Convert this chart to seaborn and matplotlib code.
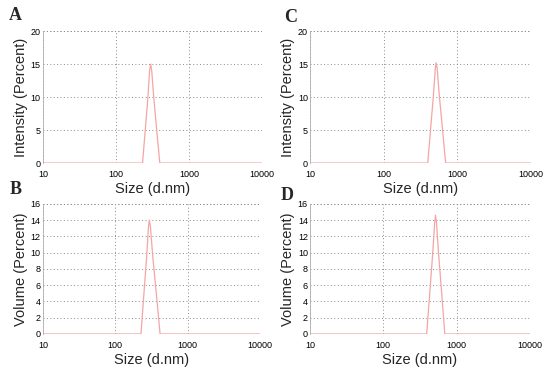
import pandas as pd
import matplotlib
matplotlib.use('Agg')
import matplotlib.pyplot as plt
import matplotlib.ticker as mticker
import seaborn as sns

# DLS size distributions
a_size = [10, 200, 232, 253, 275, 290, 300, 310, 330, 363, 400, 500, 10000]
a_intensity = [0, 0, 0, 5.0, 10.0, 14.0, 15.0, 14.0, 10.0, 5.0, 0, 0, 0]

b_size = [10, 200, 226, 247, 270, 287, 295, 305, 330, 370, 415, 500, 10000]
b_volume = [0, 0, 0, 4.7, 9.3, 13.2, 14.0, 13.2, 9.4, 4.8, 0, 0, 0]

c_size = [10, 350, 396, 432, 471, 502, 515, 531, 569, 627, 693, 800, 10000]
c_intensity = [0, 0, 0, 5.0, 10.0, 14.3, 15.2, 14.4, 10.2, 5.2, 0, 0, 0]

d_size = [10, 350, 390, 428, 469, 501, 515, 531, 568, 625, 690, 800, 10000]
d_volume = [0, 0, 0, 4.8, 9.6, 13.6, 14.6, 13.7, 9.8, 5.0, 0, 0, 0]

sns.set_style("white")
plt.rcParams['font.family'] = ['Liberation Sans', 'DejaVu Sans']

fig = plt.figure(figsize=(5.5, 3.74), dpi=100)

panels = [
    ('A', a_size, a_intensity, 'Intensity (Percent)', 20, 5, 1, [0.078, 0.564, 0.398, 0.353], (15, 16)),
    ('C', c_size, c_intensity, 'Intensity (Percent)', 20, 5, 1, [0.5636, 0.564, 0.402, 0.353], (291, 17)),
    ('B', b_size, b_volume, 'Volume (Percent)', 16, 2, 1, [0.078, 0.107, 0.395, 0.348], (16, 190)),
    ('D', d_size, d_volume, 'Volume (Percent)', 16, 2, 1, [0.5636, 0.107, 0.400, 0.348], (287, 196)),
]

line_color = '#f4a5a5'
grid_color = '#8a8a8a'
dots = (0, (1, 2.5))

for letter, xs, ys, ylabel, ymax, ystep, yminor, rect, lab_pos in panels:
    ax = fig.add_axes(rect)
    df = pd.DataFrame({'size': xs, 'value': ys})
    sns.lineplot(data=df, x='size', y='value', ax=ax, color=line_color, linewidth=0.9)
    ax.set_xscale('log')
    ax.set_xlim(10, 10000)
    ax.set_ylim(0, ymax)
    ax.xaxis.set_major_locator(mticker.FixedLocator([10, 100, 1000, 10000]))
    ax.xaxis.set_major_formatter(mticker.FixedFormatter(['10', '100', '1000', '10000']))
    ax.xaxis.set_minor_locator(mticker.LogLocator(base=10, subs=range(2, 10)))
    ax.xaxis.set_minor_formatter(mticker.NullFormatter())
    ax.yaxis.set_major_locator(mticker.MultipleLocator(ystep))
    ax.yaxis.set_minor_locator(mticker.MultipleLocator(yminor))
    ax.tick_params(axis='both', which='both', direction='in', colors=grid_color,
                   labelcolor='black', labelsize=6.5, width=0.6)
    ax.tick_params(which='major', length=3)
    ax.tick_params(which='minor', length=1.5)
    ax.tick_params(axis='x', pad=5)
    ax.tick_params(axis='y', pad=1.5)
    ax.grid(True, which='major', color=grid_color, linestyle=dots, linewidth=0.7)
    for side in ['top', 'right', 'bottom']:
        ax.spines[side].set_visible(False)
    ax.spines['left'].set_color('#b0b0b0')
    ax.spines['left'].set_linewidth(0.6)
    ax.axvline(10000, color=grid_color, linestyle=dots, linewidth=0.7)
    ax.axhline(ymax, color=grid_color, linestyle=dots, linewidth=0.7)
    ax.set_xlabel('Size (d.nm)', fontsize=10.5, labelpad=2)
    ax.set_ylabel(ylabel, fontsize=10.5, labelpad=2)
    fig.text(lab_pos[0] / 550, 1 - lab_pos[1] / 374, letter, fontsize=13, fontweight='bold',
             family=['Liberation Serif', 'DejaVu Serif'], ha='center', va='center')

fig.savefig('out.png', dpi=100)
